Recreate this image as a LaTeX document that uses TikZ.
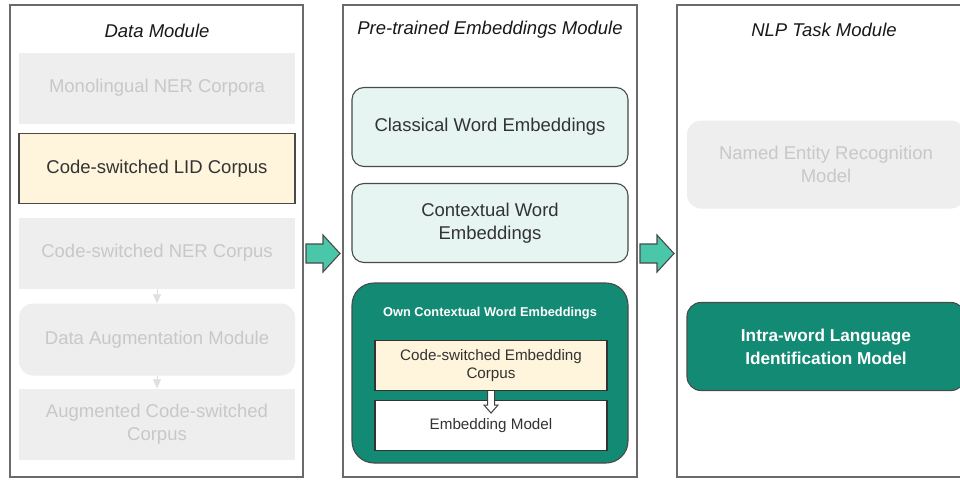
\documentclass[tikz,border=0pt]{standalone}
\usepackage{fontspec}
\setmainfont{Liberation Sans}
\usetikzlibrary{arrows.meta,calc}
\definecolor{frameC}{HTML}{6A6A6A}
\definecolor{greyF}{HTML}{EEEEEE}
\definecolor{greyT}{HTML}{C8C8C8}
\definecolor{greyA}{HTML}{E0E0E0}
\definecolor{yelF}{HTML}{FFF4DC}
\definecolor{tealF}{HTML}{E6F5F1}
\definecolor{darkG}{HTML}{138A73}
\definecolor{mint}{HTML}{4AC6A8}
\definecolor{txt}{HTML}{333333}
\definecolor{edge}{HTML}{4A4A4A}
\begin{document}
\begin{tikzpicture}[x=1pt,y=-1pt,
  frame/.style={draw=frameC, line width=1.3pt, fill=white, inner sep=0pt},
  title/.style={font=\fontsize{18.5}{22}\selectfont\itshape, text=black!90},
  ghost/.style={fill=greyF, text=greyT, font=\fontsize{18.5}{23}\selectfont, align=center, inner sep=0pt, minimum width=276pt, minimum height=71pt},
  lid/.style={draw=edge, line width=1.1pt, fill=yelF, text=txt, font=\fontsize{18.5}{23}\selectfont, align=center, inner sep=0pt, minimum width=276pt, minimum height=70pt},
  emb/.style={draw=edge, line width=1.1pt, fill=tealF, text=txt, rounded corners=12pt, font=\fontsize{18.5}{23}\selectfont, align=center, inner sep=0pt, minimum width=276pt, minimum height=79pt},
  inner/.style={draw=black!80, line width=1.1pt, text=txt, font=\fontsize{15.2}{18}\selectfont, align=center, inner sep=0pt, minimum width=232pt, minimum height=50pt},
  dark/.style={draw=edge, line width=1.1pt, fill=darkG, text=white, rounded corners=14pt, font=\fontsize{17.2}{23}\selectfont\bfseries, align=center, inner sep=0pt},
  ghostarrow/.style={draw=greyA, line width=0.8pt, -{Triangle[width=8pt,length=9pt]}},
  blockarrow/.style={draw=edge, line width=1.1pt, fill=mint, line join=miter},
  hollowarrow/.style={draw=black!75, line width=1pt, fill=white, line join=miter}]
\useasboundingbox (0,0) rectangle (960,479);
\clip (0,0) rectangle (960,479);

% frames
\node[frame, minimum width=293pt, minimum height=472pt] (dm) at (156.5,241) {};
\node[frame, minimum width=294pt, minimum height=472pt] (pm) at (490,241) {};
\node[frame, minimum width=300pt, minimum height=472pt] (tm) at (827,241) {};

\node[title] (dmt) at (157,31) {Data Module};
\node[title] (pmt) at (490,30) {Pre-trained Embeddings Module};
\node[title] (tmt) at (824,30) {NLP Task Module};

% data module
\node[ghost] (mono) at (157,88) {Monolingual NER Corpora};
\node[lid] (lidc) at (157,168.5) {Code-switched LID Corpus};
\node[ghost] (nerc) at (157,253) {Code-switched NER Corpus};
\node[ghost, rounded corners=14pt, minimum height=72pt] (aug) at (157,339.5) {Data Augmentation Module};
\node[ghost] (augc) at (157,424) {Augmented Code-switched\\Corpus};
\draw[ghostarrow] (nerc.south) -- (aug.north);
\draw[ghostarrow] (aug.south) -- (augc.north);

% embeddings module
\node[emb] (clas) at (490,127) {Classical Word Embeddings};
\node[emb] (cont) at (490,223) {Contextual Word\\Embeddings};
\node[dark, rounded corners=22pt, minimum width=276pt, minimum height=180pt] (own) at (490,373) {};
\node[text=white, font=\fontsize{12.8}{15}\selectfont\bfseries] (ownt) at (490,313) {Own Contextual Word Embeddings};
\node[inner, fill=yelF] (csec) at (491,365.5) {Code-switched Embedding\\Corpus};
\node[inner, fill=white] (embm) at (491,425.5) {Embedding Model};
\draw[hollowarrow] ($(csec.south)+(-3.5,0)$) -- ++(0,14) -- ++(-3.5,0) -- ($(csec.south)+(0,22)$) -- ($(csec.south)+(7,14)$) -- ++(-3.5,0) -- ($(csec.south)+(3.5,0)$);

% task module
\node[ghost, rounded corners=14pt, minimum width=278pt, minimum height=88pt] (nerm) at (826,164.5) {Named Entity Recognition\\Model};
\node[dark, minimum width=278pt, minimum height=88pt] (lidm) at (826,346.5) {Intra-word Language\\Identification Model};

% block arrows between modules
\coordinate (a1) at ($(dm.east)!0.5!(pm.west)+(0,12.5)$);
\coordinate (a2) at ($(pm.east)!0.5!(tm.west)+(0,12.5)$);
\foreach \c in {a1,a2}{
  \draw[blockarrow] ($(\c)+(-17,-9.5)$) -- ++(17,0) -- ++(0,-9) -- ($(\c)+(17,0)$) -- ($(\c)+(0,18.5)$) -- ++(0,-9) -- ($(\c)+(-17,9.5)$) -- cycle;
}
\end{tikzpicture}
\end{document}
